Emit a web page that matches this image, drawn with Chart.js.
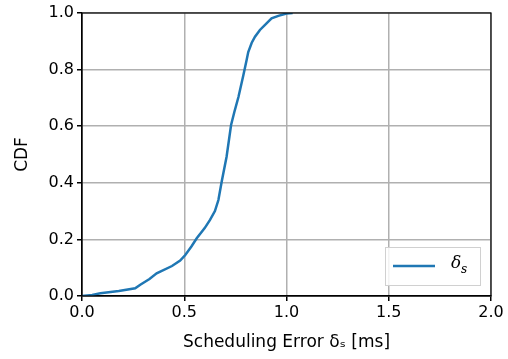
<!DOCTYPE html>
<html>
<head>
<meta charset="utf-8">
<script src="https://cdn.jsdelivr.net/npm/chart.js@4"></script>
<style>
  html, body { margin: 0; padding: 0; background: #fff; }
  #wrap { width: 508px; height: 359px; }
</style>
</head>
<body>
<div id="wrap"><canvas id="cdfChart" width="508" height="359"></canvas></div>
<script>
// scheduling error samples (ms) and their CDF
const errorMs = [0.0, 0.05, 0.09, 0.18, 0.26, 0.285, 0.33, 0.365, 0.44, 0.48, 0.505, 0.535, 0.561, 0.6, 0.626, 0.65, 0.667, 0.683, 0.707, 0.729, 0.745, 0.765, 0.789, 0.805, 0.813, 0.83, 0.846, 0.87, 0.9, 0.927, 0.96, 1.0, 1.03];
const cdfValues = [0.0, 0.004, 0.01, 0.018, 0.027, 0.04, 0.06, 0.08, 0.106, 0.125, 0.145, 0.175, 0.204, 0.24, 0.269, 0.3, 0.339, 0.404, 0.492, 0.604, 0.65, 0.703, 0.78, 0.834, 0.862, 0.895, 0.916, 0.94, 0.962, 0.981, 0.99, 0.998, 1.0];
const xTicks = [0, 0.5, 1.0, 1.5, 2.0];
const yTicks = [0, 0.2, 0.4, 0.6, 0.8, 1.0];
const seriesLabel = 'δₛ';

const lineColor = '#1f77b4';
const font = { family: 'DejaVu Sans', size: 16 };
const titleFont = { family: 'DejaVu Sans', size: 17 };

// box around the plot + legend in the lower right corner
const frameAndLegend = {
    id: 'frameAndLegend',
    afterDraw(chart) {
        const { ctx, chartArea: a } = chart;
        ctx.save();
        ctx.strokeStyle = '#000';
        ctx.lineWidth = 1.2;
        ctx.strokeRect(a.left, a.top, a.right - a.left, a.bottom - a.top);

        const bx = a.right - 106, by = a.bottom - 49, bw = 95, bh = 38;
        ctx.fillStyle = 'rgba(255,255,255,0.85)';
        ctx.strokeStyle = '#d0d0d0';
        ctx.lineWidth = 1;
        ctx.fillRect(bx, by, bw, bh);
        ctx.strokeRect(bx + 0.5, by + 0.5, bw, bh);
        ctx.strokeStyle = lineColor;
        ctx.lineWidth = 2.5;
        ctx.beginPath();
        ctx.moveTo(bx + 8, by + 19);
        ctx.lineTo(bx + 50, by + 19);
        ctx.stroke();
        ctx.fillStyle = '#000';
        ctx.textBaseline = 'middle';
        ctx.font = 'italic 17px "DejaVu Serif"';
        ctx.fillText('δ', bx + 66, by + 17);
        ctx.font = 'italic 12px "DejaVu Serif"';
        ctx.fillText('s', bx + 76, by + 23);
        ctx.restore();
    }
};

const ctx = document.getElementById('cdfChart').getContext('2d');
const chart = new Chart(ctx, {
    type: 'line',
    data: {
        datasets: [{
            label: seriesLabel,
            data: errorMs.map((x, i) => ({ x: x, y: cdfValues[i] })),
            borderColor: lineColor,
            borderWidth: 2.5,
            pointRadius: 0,
            tension: 0,
            fill: false
        }]
    },
    options: {
        responsive: false,
        animation: false,
        layout: { padding: { top: 13, right: 17, left: 0, bottom: 0 } },
        plugins: { legend: { display: false }, tooltip: { enabled: false } },
        scales: {
            x: {
                type: 'linear',
                min: 0,
                max: 2,
                afterBuildTicks: (s) => { s.ticks = xTicks.map(v => ({ value: v })); },
                afterFit: (s) => { s.height = 63; },
                grid: { color: '#b0b0b0', lineWidth: 1.5, tickColor: '#000', tickLength: 5 },
                border: { color: '#000', width: 1.2 },
                ticks: { color: '#000', font: font, padding: 2, maxRotation: 0, callback: (v) => v.toFixed(1) },
                title: { display: true, text: 'Scheduling Error δₛ [ms]', color: '#000', font: titleFont, padding: { top: 0, bottom: 6 } }
            },
            y: {
                min: 0,
                max: 1,
                afterBuildTicks: (s) => { s.ticks = yTicks.map(v => ({ value: v })); },
                afterFit: (s) => { s.width = 82; },
                grid: { color: '#b0b0b0', lineWidth: 1.5, tickColor: '#000', tickLength: 5 },
                border: { color: '#000', width: 1.2 },
                ticks: { color: '#000', font: font, padding: 3, callback: (v) => v.toFixed(1) },
                title: { display: true, text: 'CDF', color: '#000', font: titleFont, padding: { top: 12, bottom: 2 } }
            }
        }
    },
    plugins: [frameAndLegend]
});
</script>
</body>
</html>
